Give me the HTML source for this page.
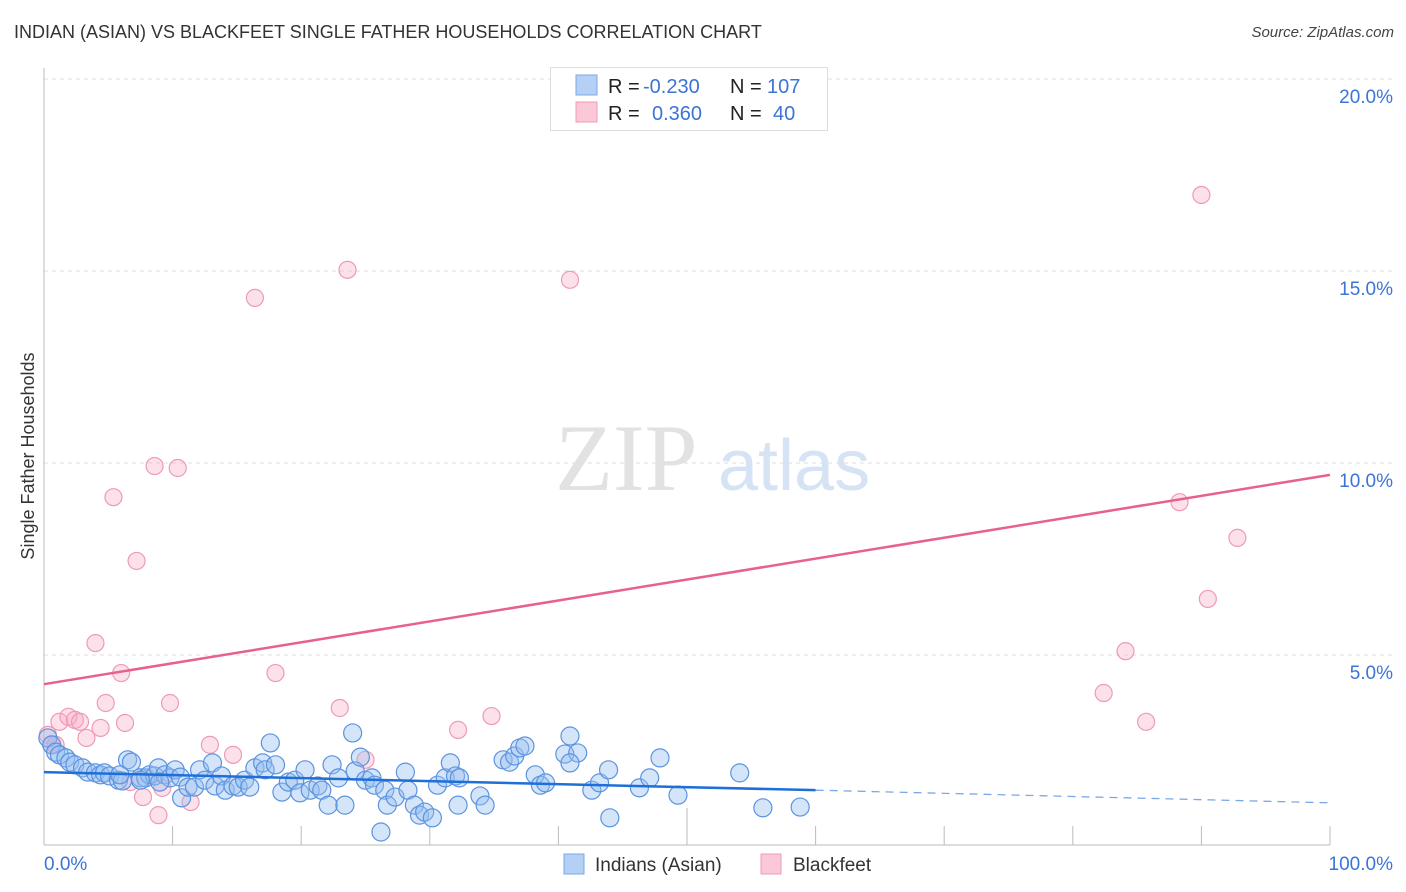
<!DOCTYPE html>
<html><head><meta charset="utf-8">
<style>
body{margin:0;background:#fff;font-family:"Liberation Sans",sans-serif;}
#wrap{position:relative;width:1406px;height:892px;overflow:hidden;}
.title{position:absolute;left:14px;top:22px;font-size:18px;color:#333;}
.source{position:absolute;right:12px;top:24px;font-size:15px;color:#444;font-style:italic;}
</style></head>
<body>
<div id="wrap">
<div class="title">INDIAN (ASIAN) VS BLACKFEET SINGLE FATHER HOUSEHOLDS CORRELATION CHART</div>
<div class="source">Source: ZipAtlas.com</div>
<svg id="svg" width="1406" height="892" style="position:absolute;left:0;top:0"></svg>
</div>
<script>
const yTicks=[5,10,15,20];
const yTickLabels=["5.0%","10.0%","15.0%","20.0%"];
const xTickLabels=["0.0%","100.0%"];
const blueX=[0.3,0.6,0.9,1.2,1.7,2.0,2.4,3.0,3.4,4.0,4.4,4.7,5.1,5.8,6.1,6.5,6.8,7.5,7.9,8.2,8.6,8.9,9.4,9.8,10.2,10.6,10.7,11.2,11.7,12.1,12.5,13.1,13.3,13.8,14.1,14.7,15.1,15.6,16.0,16.4,17.0,17.2,17.6,18.0,18.5,19.0,19.5,19.9,20.3,20.7,21.3,21.6,22.1,22.4,22.9,23.4,24.0,24.2,24.6,25.0,25.5,25.7,26.5,26.7,27.3,26.2,28.1,28.3,28.8,29.2,29.6,30.2,30.6,31.2,31.6,32.0,32.2,32.3,33.9,34.3,35.7,36.2,36.6,37.0,37.4,38.2,38.6,39.0,40.5,40.9,41.5,40.9,42.6,43.2,43.9,44.0,46.3,47.1,47.9,49.3,54.1,55.9,58.8,9.0,7.5,5.9];
const blueY=[2.84,2.66,2.47,2.40,2.32,2.21,2.14,2.06,1.95,1.93,1.88,1.93,1.85,1.74,1.72,2.27,2.21,1.80,1.80,1.88,1.85,2.06,1.88,1.80,2.01,1.82,1.28,1.56,1.56,2.01,1.74,2.19,1.59,1.85,1.48,1.59,1.56,1.74,1.56,2.06,2.19,2.01,2.71,2.14,1.43,1.69,1.74,1.41,2.01,1.48,1.59,1.48,1.09,2.14,1.80,1.09,2.97,1.98,2.34,1.74,1.80,1.61,1.48,1.09,1.30,0.39,1.95,1.48,1.09,0.83,0.91,0.76,1.61,1.80,2.19,1.85,1.09,1.80,1.33,1.09,2.27,2.21,2.37,2.58,2.63,1.88,1.61,1.67,2.42,2.89,2.45,2.19,1.48,1.67,2.01,0.76,1.54,1.80,2.32,1.35,1.93,1.02,1.04,1.69,1.74,1.88];
const pinkX=[0.3,0.6,0.9,1.2,1.9,2.4,2.8,3.3,4.0,4.4,4.8,5.4,6.3,6.7,7.2,7.7,8.6,8.9,9.2,9.8,10.4,11.4,12.9,14.7,16.4,18.0,23.0,23.6,25.0,32.2,34.8,40.9,82.4,84.1,85.7,88.3,90.0,90.5,92.8,6.0];
const pinkY=[2.92,2.66,2.66,3.26,3.39,3.31,3.26,2.84,5.31,3.10,3.75,9.11,3.23,1.69,7.45,1.30,9.92,0.83,1.54,3.75,9.87,1.17,2.66,2.40,14.30,4.53,3.62,15.03,2.27,3.05,3.41,14.77,4.01,5.10,3.26,8.98,16.98,6.46,8.05,4.53];
const blueTrendX=[0,60,100];
const blueTrendY=[1.95,1.48,1.15];
const pinkTrendX=[0,100];
const pinkTrendY=[4.24,9.69];

const NS="http://www.w3.org/2000/svg";
const svg=document.getElementById('svg');
const X=v=>44+v*12.86;
const Y=v=>847-v*38.4;
function mk(tag,attrs,parent){const e=document.createElementNS(NS,tag);for(const k in attrs)e.setAttribute(k,attrs[k]);(parent||svg).appendChild(e);return e;}

// gridlines
yTicks.forEach((t,i)=>{
  const g=mk('line',{x1:44,x2:1395,y1:Y(t),y2:Y(t),stroke:'#ddd','stroke-dasharray':'4,4'});
  
  
  const tx=mk('text',{x:1393,y:Y(t)+24,'text-anchor':'end','font-size':19,fill:'#3b74d6','font-family':'Liberation Sans, sans-serif'});
  tx.textContent=yTickLabels[i];
  
  
});
// axes
const ax=mk('line',{x1:44,x2:1330,y1:845,y2:845,stroke:'#bbb'});


const ay=mk('line',{x1:44,x2:44,y1:68,y2:845,stroke:'#bbb'});


for(let i=1;i<=10;i++){
  const t=mk('line',{x1:X(i*10),x2:X(i*10),y1:i==5?808:826,y2:845,stroke:'#bbb'});
  
  
}
[[44,'start',0],[1393,'end',1]].forEach(([x,a,i])=>{
  const t=mk('text',{x:x,y:870,'text-anchor':a,'font-size':19,fill:'#3b74d6','font-family':'Liberation Sans, sans-serif'});
  t.textContent=xTickLabels[i];
  
  
});
const yt=mk('text',{x:34,y:456,'text-anchor':'middle','font-size':18,fill:'#333',transform:'rotate(-90 34 456)','font-family':'Liberation Sans, sans-serif'});
yt.textContent='Single Father Households';


// watermark
const wm=mk('text',{x:555,y:490,'font-size':95,fill:'#e2e2e2','font-family':'Liberation Serif, serif'});
wm.textContent='ZIP';


const wm2=mk('text',{x:718,y:490,'font-size':72,fill:'#d6e3f5','font-family':'Liberation Sans, sans-serif'});
wm2.textContent='atlas';



// points
pinkX.forEach((v,i)=>{
  const c=mk('circle',{cx:X(v),cy:Y(pinkY[i]),r:8.5,fill:'rgba(248,170,195,0.35)',stroke:'#ef9ab5','stroke-width':1.2});
  
  
});
blueX.forEach((v,i)=>{
  const c=mk('circle',{cx:X(v),cy:Y(blueY[i]),r:9,fill:'rgba(150,190,240,0.4)',stroke:'#5b93e0','stroke-width':1.2});
  
  
});
// trend lines
const pl=mk('line',{x1:X(pinkTrendX[0]),y1:Y(pinkTrendY[0]),x2:X(pinkTrendX[1]),y2:Y(pinkTrendY[1]),stroke:'#e8608c','stroke-width':2.5});


const bl=mk('line',{x1:X(blueTrendX[0]),y1:Y(blueTrendY[0]),x2:X(blueTrendX[1]),y2:Y(blueTrendY[1]),stroke:'#1e6fd9','stroke-width':2.5});


const bd=mk('line',{x1:X(blueTrendX[1]),y1:Y(blueTrendY[1]),x2:X(blueTrendX[2]),y2:Y(blueTrendY[2]),stroke:'#7aa8e6','stroke-width':1.3,'stroke-dasharray':'8,6'});



// legend box
const lg=mk('g',{});


mk('rect',{x:550.5,y:67.5,width:277,height:63,fill:'#fff',stroke:'#ddd'},lg);
mk('rect',{x:576,y:75,width:21,height:20,fill:'#b5d0f5',stroke:'#7aa8e6'},lg);
mk('rect',{x:576,y:102,width:21,height:20,fill:'#fbc8d7',stroke:'#f09ab5'},lg);
function lt(x,y,s,c){const t=mk('text',{x:x,y:y,'font-size':20,fill:c,'font-family':'Liberation Sans, sans-serif'},lg);t.textContent=s;return t;}
lt(608,93,'R =','#222');lt(643,93,'-0.230','#3b74d6');lt(730,93,'N =','#222');lt(767,93,'107','#3b74d6');
lt(608,120,'R =','#222');lt(652,120,'0.360','#3b74d6');lt(730,120,'N =','#222');lt(773,120,'40','#3b74d6');

// bottom legend
const bl2=mk('g',{});


mk('rect',{x:564,y:854,width:20,height:20,fill:'#b5d0f5',stroke:'#7aa8e6'},bl2);
const l1=mk('text',{x:595,y:871,'font-size':19,fill:'#333','font-family':'Liberation Sans, sans-serif'},bl2);l1.textContent='Indians (Asian)';


mk('rect',{x:761,y:854,width:20,height:20,fill:'#fbc8d7',stroke:'#f09ab5'},bl2);
const l2=mk('text',{x:793,y:871,'font-size':19,fill:'#333','font-family':'Liberation Sans, sans-serif'},bl2);l2.textContent='Blackfeet';


</script>
</body></html>
